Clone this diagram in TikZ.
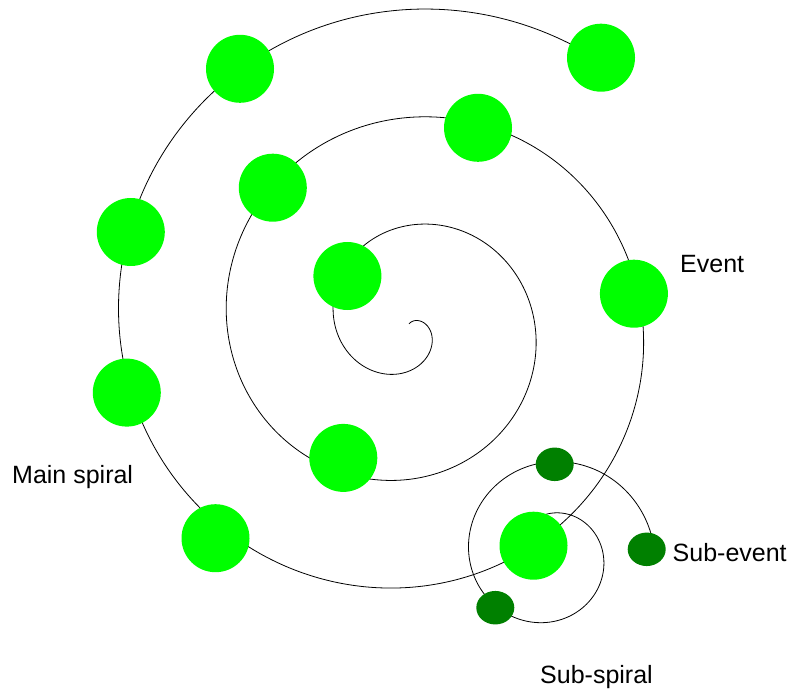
\documentclass[tikz,border=0pt]{standalone}
\usepackage{fontspec}
\setmainfont{Liberation Sans}
\usetikzlibrary{shapes.geometric}
\definecolor{evgreen}{RGB}{0,255,0}
\definecolor{subgreen}{RGB}{0,128,0}
\begin{document}
\begin{tikzpicture}[x=1pt,y=-1pt,
  event/.style={circle,fill=evgreen,inner sep=0pt,minimum size=68pt},
  subevent/.style={ellipse,fill=subgreen,inner sep=0pt,minimum width=38pt,minimum height=33.5pt},
  spiralline/.style={line width=0.8pt,black},
  lbl/.style={anchor=base west,inner sep=0pt,font=\fontsize{25}{30}\selectfont}]
\useasboundingbox (0,0) rectangle (791,692);
% main spiral
\draw[spiralline] plot[domain=-57:1026,samples=700,smooth,variable=\t]
  ({408+(19+0.3*\t)*cos(\t)},{325.5+(19+0.3*\t)*sin(\t)});
% sub spiral
\draw[spiralline] plot[domain=-100:355,samples=300,smooth,variable=\t]
  ({549+(54.3+0.1433*\t)*cos(\t)},{555+(54.3+0.1433*\t)*sin(\t)});
% events
\node[event] (e1) at (601,57.7) {};
\node[event] (e2) at (240,68.8) {};
\node[event] (e3) at (478,127.8) {};
\node[event] (e4) at (272.8,187.7) {};
\node[event] (e5) at (130.8,232) {};
\node[event] (e6) at (347.4,276) {};
\node[event] (e7) at (633.9,293.7) {};
\node[event] (e8) at (126.8,392.6) {};
\node[event] (e9) at (343.3,457.9) {};
\node[event] (e10) at (215.5,538.2) {};
\node[event] (e11) at (533.5,545.7) {};
% sub-events
\node[subevent] (s1) at (554.7,464.3) {};
\node[subevent] (s2) at (646.7,549.3) {};
\node[subevent] (s3) at (495.3,607.7) {};
% labels
\node[lbl] (lev) at (680,272.3) {Event};
\node[lbl] (lmain) at (12,483.3) {Main spiral};
\node[lbl] (lsubev) at (672.5,561.7) {Sub-event};
\node[lbl] (lsubsp) at (540,683.3) {Sub-spiral};
\end{tikzpicture}
\end{document}
